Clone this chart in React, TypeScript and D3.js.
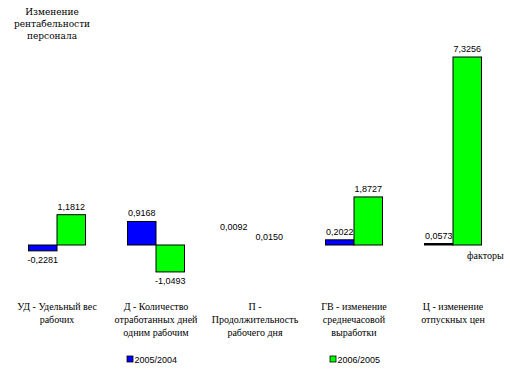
import React from 'react';
import * as d3 from 'd3';

// chart data
const categories = ['УД', 'Д', 'П', 'ГВ', 'Ц'];
const categoryLabels = [
  ['УД - Удельный вес', 'рабочих'],
  ['Д - Количество', 'отработанных дней', 'одним рабочим'],
  ['П -', 'Продолжительность', 'рабочего дня'],
  ['ГВ - изменение', 'среднечасовой', 'выработки'],
  ['Ц - изменение', 'отпускных цен'],
];
const series = ['2005/2004', '2006/2005'];
const values2005 = [-0.2281, 0.9168, 0.0092, 0.2022, 0.0573];
const values2006 = [1.1812, -1.0493, 0.015, 1.8727, 7.3256];
const colors = ['#0000ff', '#00ff00'];
const titleLines = ['Изменение', 'рентабельности', 'персонала'];

const W = 510;
const H = 386;
const serif = { fontFamily: 'Times New Roman' };
const serif2 = { fontFamily: 'DejaVu Serif' };
const sans = { fontFamily: "'Liberation Sans', Arial, sans-serif" };

const fmt = (v: number) => v.toFixed(4).replace('.', ',');

export default function App() {
  const all = [values2005, values2006];
  const max = d3.max(values2006) as number;

  const x0 = d3
    .scaleBand()
    .domain(categories)
    .range([7.5, 502.5])
    .paddingInner(42 / 99)
    .paddingOuter(21 / 99);
  const x1 = d3.scaleBand().domain(series).range([0, x0.bandwidth()]);
  const y = d3.scaleLinear().domain([0, max]).range([245, 57]);

  return (
    <svg width={W} height={H} style={{ position: 'absolute', left: 0, top: 0, background: '#fff' }}>
      {/* title */}
      <text x={52} y={15} textAnchor="middle" style={serif2} fontSize={9}>
        {titleLines.map((t, i) => (
          <tspan key={i} x={52} dy={i === 0 ? 0 : 12}>{t}</tspan>
        ))}
      </text>

      {/* bars */}
      {categories.map((c, ci) => (
        <g key={c} transform={`translate(${x0(c)},0)`}>
          {series.map((s, si) => {
            const v = all[si][ci];
            const top = y(Math.max(0, v));
            const h = Math.abs(y(v) - y(0));
            const tiny = h < 1;
            const bx = x1(s) as number;
            const bw = x1.bandwidth();
            // staggering for labels of near-zero bars so they don't collide
            const lx = bx + bw / 2 + (tiny && si === 0 ? -7 : 0);
            const ly = v >= 0 ? top - 5 - (tiny && si === 0 ? 10 : 0) : y(v) + 12;
            return (
              <g key={s}>
                {!tiny && (
                  <rect x={bx} y={top} width={bw} height={h} fill={h < 2 ? '#000' : colors[si]} stroke="#000" strokeWidth={1} />
                )}
                <text x={lx} y={ly} textAnchor="middle" style={sans} fontSize={9}>
                  {fmt(v)}
                </text>
              </g>
            );
          })}
        </g>
      ))}

      {/* axis title */}
      <text x={467} y={259} style={serif} fontSize={10}>факторы</text>

      {/* category labels */}
      {categories.map((c, ci) => {
        const cx = (x0(c) as number) + x0.bandwidth() / 2;
        return (
          <text key={c} x={cx} y={310} textAnchor="middle" style={serif} fontSize={10}>
            {categoryLabels[ci].map((t, i) => (
              <tspan key={i} x={cx} dy={i === 0 ? 0 : 13}>{t}</tspan>
            ))}
          </text>
        );
      })}

      {/* legend */}
      {series.map((s, si) => {
        const lx = si === 0 ? 127 : 330;
        return (
          <g key={s}>
            <rect x={lx} y={356} width={6} height={6} fill={colors[si]} stroke="#000" strokeWidth={0.8} />
            <text x={lx + 7.5} y={362.5} style={sans} fontSize={9}>{s}</text>
          </g>
        );
      })}
    </svg>
  );
}
